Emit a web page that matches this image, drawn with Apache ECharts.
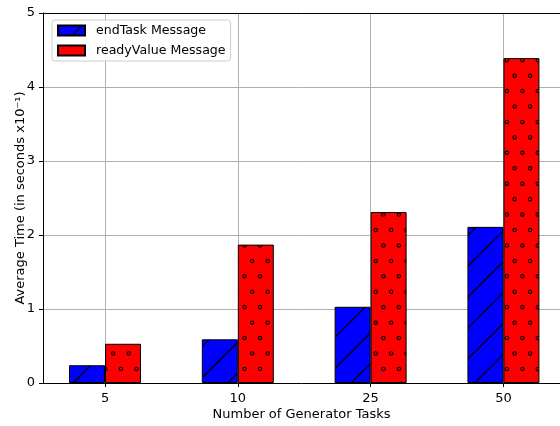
<!DOCTYPE html>
<html>
<head>
<meta charset="utf-8">
<script src="https://cdn.jsdelivr.net/npm/echarts@6/dist/echarts.min.js"></script>
<style>
html,body{margin:0;padding:0;background:#fff;}
#chart{width:560px;height:426px;}
</style>
</head>
<body>
<div id="chart"></div>
<script>
// ---- data ----
const categories = ['5', '10', '25', '50'];
const endTaskValues = [0.24, 0.59, 1.03, 2.11];
const readyValueValues = [0.53, 1.87, 2.31, 4.39];
const seriesNames = ['endTask Message', 'readyValue Message'];
const yTicks = [0, 1, 2, 3, 4, 5];

// ---- hatch patterns (textures) ----
const TILE = 247;
function lineHatch() {
  const c = document.createElement('canvas');
  c.width = TILE; c.height = TILE;
  const g = c.getContext('2d');
  g.fillStyle = '#0000ff';
  g.fillRect(0, 0, TILE, TILE);
  g.strokeStyle = '#000';
  g.lineWidth = 1.3;
  const sp = TILE / 8;
  for (let k = -3; k <= 20; k++) {
    const s = 24 + k * sp;
    g.beginPath();
    g.moveTo(s + 600, -600);
    g.lineTo(s - 600, 600);
    g.stroke();
  }
  return c;
}
function circleHatch() {
  const c = document.createElement('canvas');
  c.width = TILE; c.height = TILE;
  const g = c.getContext('2d');
  g.fillStyle = '#ff0000';
  g.fillRect(0, 0, TILE, TILE);
  g.strokeStyle = '#000';
  g.lineWidth = 1.1;
  const p = TILE / 16;
  const x0 = 5.2, y0 = 13.875;
  for (let r = -1; r <= 16; r++) {
    const y = y0 + r * p;
    const off = ((r % 2) + 2) % 2 === 0 ? 0 : p / 2;
    for (let m = -1; m <= 17; m++) {
      const x = x0 + off + m * p;
      g.beginPath();
      g.arc(x, y, 1.7, 0, Math.PI * 2);
      g.stroke();
    }
  }
  return c;
}

const chart = echarts.init(document.getElementById('chart'), null, {renderer: 'canvas'});
const xMin = -0.467, xMax = 3.426;
const tickIdx = categories.map((_, i) => i);
const font = 'DejaVu Sans';
const fs = 13;

chart.setOption({
  animation: false,
  textStyle: {fontFamily: font},
  grid: {left: 43, right: 0, top: 13, bottom: 43, containLabel: false, outerBoundsMode: 'none'},
  legend: {
    left: 52, top: 20, orient: 'vertical',
    data: seriesNames,
    itemWidth: 27, itemHeight: 10, itemGap: 7,
    padding: [4, 5, 4, 5],
    backgroundColor: 'rgba(255,255,255,0.8)',
    borderColor: '#cccccc', borderWidth: 1, borderRadius: 3,
    textStyle: {fontFamily: font, fontSize: 12.6, color: '#000', padding: [0, 0, 0, 6]},
    icon: 'rect'
  },
  xAxis: [{
    type: 'value', min: xMin, max: xMax,
    name: 'Number of Generator Tasks', nameLocation: 'middle', nameGap: 25, nameMoveOverlap: false,
    nameTextStyle: {fontFamily: font, fontSize: fs, color: '#000'},
    axisLine: {show: true, onZero: false, lineStyle: {color: '#000', width: 1}},
    axisTick: {show: true, inside: false, length: 4, customValues: tickIdx, lineStyle: {color: '#000'}},
    axisLabel: {show: true, margin: 9, customValues: tickIdx, fontFamily: font, fontSize: fs, color: '#000',
      formatter: v => categories[Math.round(v)]},
    splitLine: {show: true, lineStyle: {color: '#b0b0b0', width: 1}}
  }, {
    type: 'value', min: xMin, max: xMax, position: 'top',
    axisLine: {show: true, onZero: false, lineStyle: {color: '#000', width: 1}},
    axisTick: {show: false}, axisLabel: {show: false}, splitLine: {show: false}
  }],
  yAxis: {
    type: 'value', min: yTicks[0], max: yTicks[yTicks.length - 1], interval: 1,
    name: 'Average Time (in seconds x10\u207B\u00B9)', nameLocation: 'middle', nameGap: 16, nameMoveOverlap: false,
    nameTextStyle: {fontFamily: font, fontSize: fs, color: '#000'},
    axisLine: {show: true, onZero: false, lineStyle: {color: '#000', width: 1}},
    axisTick: {show: true, length: 4, lineStyle: {color: '#000'}},
    axisLabel: {margin: 8, fontFamily: font, fontSize: fs, color: '#000'},
    splitLine: {show: true, lineStyle: {color: '#b0b0b0', width: 1}}
  },
  series: [{
    name: seriesNames[0], type: 'bar', xAxisIndex: 0,
    data: endTaskValues.map((v, i) => [i, v]),
    barWidth: 36, barGap: '0%',
    itemStyle: {color: {image: lineHatch(), repeat: 'repeat'}, borderColor: '#000', borderWidth: 1}
  }, {
    name: seriesNames[1], type: 'bar', xAxisIndex: 0,
    data: readyValueValues.map((v, i) => [i, v]),
    barWidth: 36, barGap: '0%',
    itemStyle: {color: {image: circleHatch(), repeat: 'repeat'}, borderColor: '#000', borderWidth: 1}
  }]
});
</script>
</body>
</html>
